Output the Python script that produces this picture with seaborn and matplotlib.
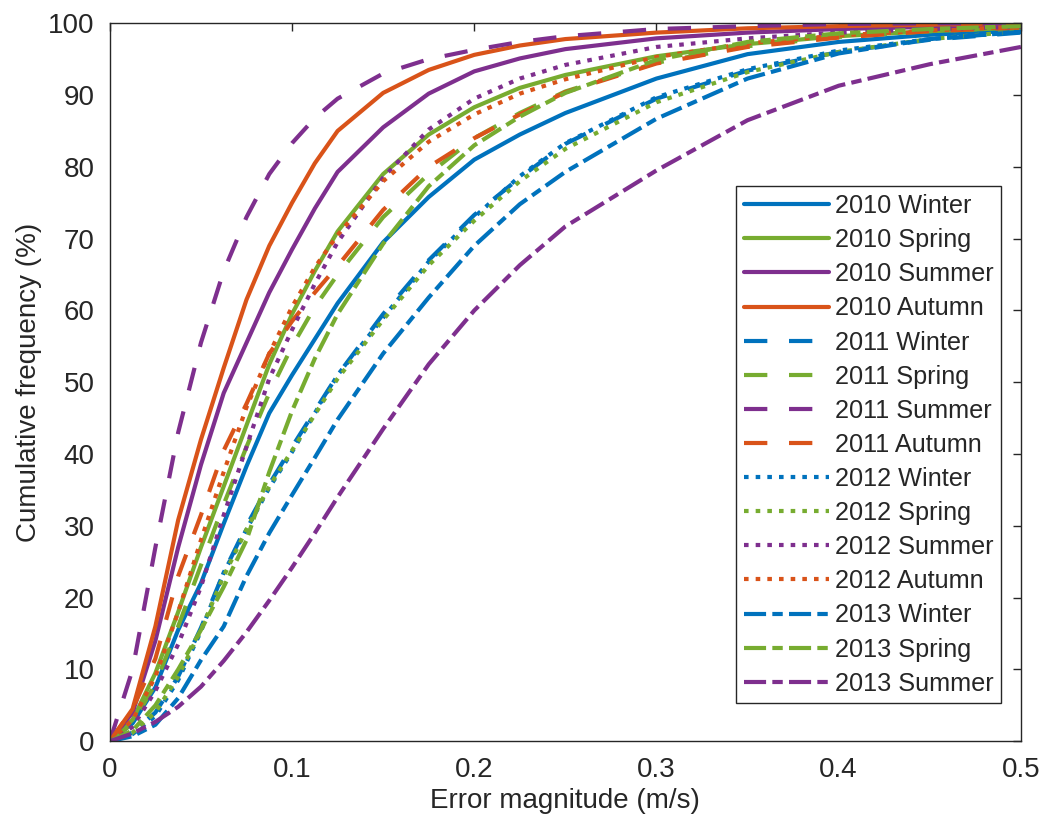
import pandas as pd
import seaborn as sns
from matplotlib import pyplot as plt

# error magnitude (m/s) where each curve was read
err = [0, 0.0125, 0.025, 0.0375, 0.05, 0.0625, 0.075, 0.0875, 0.1, 0.1125,
       0.125, 0.15, 0.175, 0.2, 0.225, 0.25, 0.3, 0.35, 0.4, 0.45, 0.5]

# cumulative frequency (%)
w2010 = [0, 2.5, 7.5, 15.5, 22, 30.3, 38.3, 45.7, 51, 56, 61, 69.5, 75.8, 81, 84.5, 87.5, 92.3, 95.7, 97.4, 98.4, 99]
sp2010 = [0, 3, 9.5, 18, 27, 35.5, 44, 52.5, 59.5, 65.5, 71, 79, 84.5, 88.3, 91, 92.8, 95.4, 97.1, 98.2, 98.9, 99.4]
su2010 = [0, 4, 14, 27, 38.5, 48.5, 55.5, 62.5, 68.5, 74.2, 79.3, 85.5, 90.2, 93.3, 95.1, 96.4, 97.9, 98.7, 99.2, 99.5, 99.7]
au2010 = [0, 4.5, 16, 30.8, 42, 52, 61.5, 69, 75, 80.5, 85, 90.3, 93.5, 95.6, 96.9, 97.8, 98.7, 99.3, 99.6, 99.8, 99.9]
w2011 = [0, 1.2, 4, 9, 15.8, 23.5, 30, 35.8, 41, 46, 51, 59.5, 67, 73.3, 78.5, 83.2, 89.5, 93.4, 96, 97.7, 98.7]
sp2011 = [0, 2.5, 8, 16, 24.5, 33, 41, 48.5, 55, 60.5, 65, 73, 79, 84, 87.5, 90.5, 94.5, 96.8, 98.1, 98.9, 99.4]
su2011 = [0, 10, 27, 43, 55.5, 65.5, 73, 79, 83.3, 86.8, 89.5, 93, 95, 96.3, 97.4, 98.2, 99.2, 99.6, 99.9, 100, 100]
au2011 = [0, 4.5, 11.5, 23, 31.5, 40.5, 47, 54, 58.5, 62.5, 66.2, 74, 80, 84, 87.3, 90.4, 94.4, 96.7, 98, 98.9, 99.4]
w2012 = [0, 1, 3.5, 8.5, 15.3, 23.5, 29.5, 35.3, 40.3, 45.7, 51, 59, 66.8, 73, 78.7, 83.3, 89.7, 93.6, 96.2, 97.8, 98.8]
sp2012 = [0, 1.2, 4, 9, 15.5, 23, 29.5, 35.5, 40.5, 45.5, 50.5, 58.7, 66.3, 72.5, 78, 82.5, 89, 93.2, 96, 97.8, 98.9]
su2012 = [0, 2, 7, 13.5, 21.5, 31.5, 41, 50.5, 57.3, 63.7, 69.5, 78.5, 85.2, 89.5, 92.3, 94.2, 96.7, 97.9, 98.7, 99.2, 99.5]
au2012 = [0, 3, 9, 18, 28, 37.5, 46.5, 54, 60.5, 66, 70.5, 78, 83.5, 87.3, 90.2, 92.2, 95.3, 97.2, 98.3, 99, 99.5]
w2013 = [0, 0.7, 2.3, 6, 11.3, 16, 23, 29, 34.3, 39.5, 44.8, 54, 61.8, 69, 74.8, 79.3, 86.7, 92.3, 95.8, 97.8, 98.8]
sp2013 = [0, 1.5, 5, 10, 15.5, 21.5, 28, 37.5, 46, 53.3, 59.5, 69.3, 77.3, 83, 87, 90.3, 94.9, 97.4, 98.6, 99.2, 99.6]
su2013 = [0, 1.1, 2.7, 4.8, 7.6, 11.2, 15.2, 19.6, 24.2, 29, 34, 43.5, 52.5, 60, 66.3, 71.7, 79.5, 86.5, 91.3, 94.3, 96.7]

names = ["2010 Winter", "2010 Spring", "2010 Summer", "2010 Autumn",
         "2011 Winter", "2011 Spring", "2011 Summer", "2011 Autumn",
         "2012 Winter", "2012 Spring", "2012 Summer", "2012 Autumn",
         "2013 Winter", "2013 Spring", "2013 Summer"]
values = [w2010, sp2010, su2010, au2010, w2011, sp2011, su2011, au2011,
          w2012, sp2012, su2012, au2012, w2013, sp2013, su2013]

season_colors = {"Winter": "#0072BD", "Spring": "#77AC30",
                 "Summer": "#7E2F8E", "Autumn": "#D95319"}
year_styles = {"2010": "-", "2011": (0, (5.6, 5.2)),
               "2012": (0, (1.1, 1.7)), "2013": (0, (5.3, 1.5, 2.5, 1.5))}

rows = []
for name, vals in zip(names, values):
    for x, y in zip(err, vals):
        rows.append({"curve": name, "err": x, "freq": y})
data = pd.DataFrame(rows)

sns.set_style("white")
plt.rcParams["font.family"] = ["Liberation Sans", "DejaVu Sans"]
txt = "#262626"

fig = plt.figure(figsize=(10.46, 8.31), dpi=100)
ax = fig.add_axes([0.105, 0.108, 0.871, 0.864])

for name in names:
    year, season = name.split()
    sub = data[data["curve"] == name]
    sns.lineplot(x="err", y="freq", data=sub, ax=ax, label=name,
                 color=season_colors[season], linestyle=year_styles[year],
                 linewidth=3, estimator=None, sort=False)

ax.set_xlim(0, 0.5)
ax.set_ylim(0, 100)
ax.set_xticks([0, 0.1, 0.2, 0.3, 0.4, 0.5])
ax.set_xticklabels(["0", "0.1", "0.2", "0.3", "0.4", "0.5"])
ax.set_yticks(range(0, 101, 10))
ax.tick_params(direction="in", length=6, width=1, top=True, right=True,
               labelsize=20, colors=txt, pad=11)
for s in ax.spines.values():
    s.set_color(txt)
    s.set_linewidth(1)
ax.set_xlabel("Error magnitude (m/s)", fontsize=20, color=txt, labelpad=4)
ax.set_ylabel("Cumulative frequency (%)", fontsize=20, color=txt, labelpad=4)

leg = ax.legend(loc="lower right", bbox_to_anchor=(0.978, 0.053),
                borderaxespad=0, fontsize=18.2, handlelength=3.36,
                handletextpad=0.24, labelspacing=0.4, fancybox=False,
                framealpha=1, borderpad=0.3)
leg.get_frame().set_edgecolor(txt)
leg.get_frame().set_linewidth(1)
for t in leg.get_texts():
    t.set_color(txt)

fig.savefig("out.png", dpi=100)
